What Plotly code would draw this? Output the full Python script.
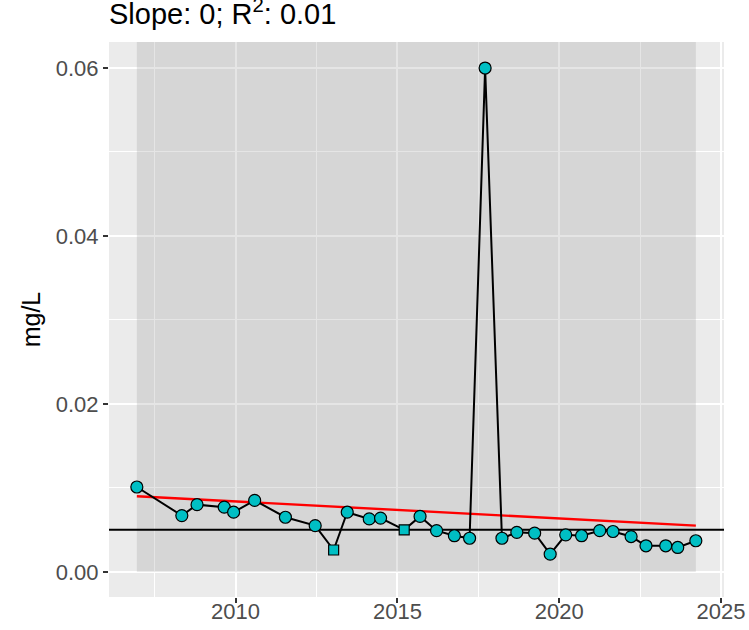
import plotly.graph_objects as go

# ---- data ----
years = [2006.95, 2008.34, 2008.81, 2009.65, 2009.94, 2010.59, 2011.54, 2012.46,
         2013.03, 2013.45, 2014.13, 2014.48, 2015.21, 2015.70, 2016.21, 2016.76,
         2017.23, 2017.71, 2018.23, 2018.69, 2019.24, 2019.72, 2020.20, 2020.69,
         2021.25, 2021.66, 2022.22, 2022.68, 2023.29, 2023.66, 2024.22]
values = [0.0101, 0.0067, 0.0080, 0.0077, 0.0071, 0.0085, 0.0065, 0.0055,
          0.0026, 0.0071, 0.0063, 0.0064, 0.0050, 0.0066, 0.0049, 0.0043,
          0.0040, 0.0600, 0.0040, 0.0047, 0.0046, 0.0021, 0.0044, 0.0043,
          0.0049, 0.0048, 0.0042, 0.0031, 0.0031, 0.0029, 0.0037]
nondetect = [False, False, False, False, False, False, False, False,
             True, False, False, False, True, False, False, False,
             False, False, False, False, False, False, False, False,
             False, False, False, False, False, False, False]
trend_x = [2006.95, 2024.22]
trend_y = [0.0090, 0.0055]
threshold = 0.005
title_text = "Slope: 0; R<sup>2</sup>: 0.01"
y_label = "mg/L"
x_ticks = [2010, 2015, 2020, 2025]
y_ticks = [0.00, 0.02, 0.04, 0.06]

FONT = "Liberation Sans, Arial, sans-serif"
x_range = [2006.09, 2025.09]
y_range = [-0.003, 0.0631]

fig = go.Figure()

fig.add_trace(go.Scatter(
    x=trend_x, y=trend_y, mode="lines",
    line=dict(color="#FF0000", width=2.4), hoverinfo="skip", showlegend=False))

fig.add_trace(go.Scatter(
    x=years, y=values, mode="lines+markers",
    line=dict(color="black", width=2),
    marker=dict(color="#00BFC4", opacity=1,
                symbol=["square" if nd else "circle" for nd in nondetect],
                size=[10 if nd else 12 for nd in nondetect],
                line=dict(color="black", width=1.2)),
    showlegend=False))

# shaded data-range rectangle (between gridlines and traces)
fig.add_shape(type="rect", xref="x", yref="y",
              x0=min(years), x1=max(years), y0=0, y1=y_range[1],
              fillcolor="rgba(160,160,160,0.28)", line=dict(width=0),
              layer="between")
# threshold line
fig.add_shape(type="line", xref="x", yref="y",
              x0=x_range[0], x1=x_range[1], y0=threshold, y1=threshold,
              line=dict(color="black", width=2), layer="between")

fig.update_layout(
    width=749, height=630,
    margin=dict(l=109, r=25, t=42, b=33, autoexpand=False),
    paper_bgcolor="white", plot_bgcolor="#EBEBEB",
    font=dict(family=FONT),
    title=dict(text=title_text, x=0, xanchor="left", xref="paper",
               yref="container", y=1 - 14 / 630, yanchor="middle",
               font=dict(size=29, color="black", family=FONT)),
    showlegend=False,
)

fig.update_xaxes(
    range=x_range, tickvals=x_ticks, ticktext=[str(t) for t in x_ticks],
    showgrid=True, gridcolor="white", gridwidth=2,
    minor=dict(dtick=2.5, tick0=2007.5, showgrid=True, gridcolor="white", gridwidth=1, ticks=""),
    ticks="outside", ticklen=5, tickwidth=2, tickcolor="#333333",
    ticklabelstandoff=-10,
    tickfont=dict(size=22, color="#4D4D4D", family=FONT),
    zeroline=False, showline=False, automargin=False)

fig.update_yaxes(
    range=y_range, tickvals=y_ticks, ticktext=[f"{t:.2f}" for t in y_ticks],
    showgrid=True, gridcolor="white", gridwidth=2,
    minor=dict(dtick=0.01, tick0=0.0, showgrid=True, gridcolor="white", gridwidth=1, ticks=""),
    ticks="outside", ticklen=5, tickwidth=2, tickcolor="#333333",
    tickfont=dict(size=22, color="#4D4D4D", family=FONT),
    title=dict(text=y_label, font=dict(size=25, color="black", family=FONT), standoff=8),
    zeroline=False, showline=False, automargin=False)

fig.write_html("out.html")
